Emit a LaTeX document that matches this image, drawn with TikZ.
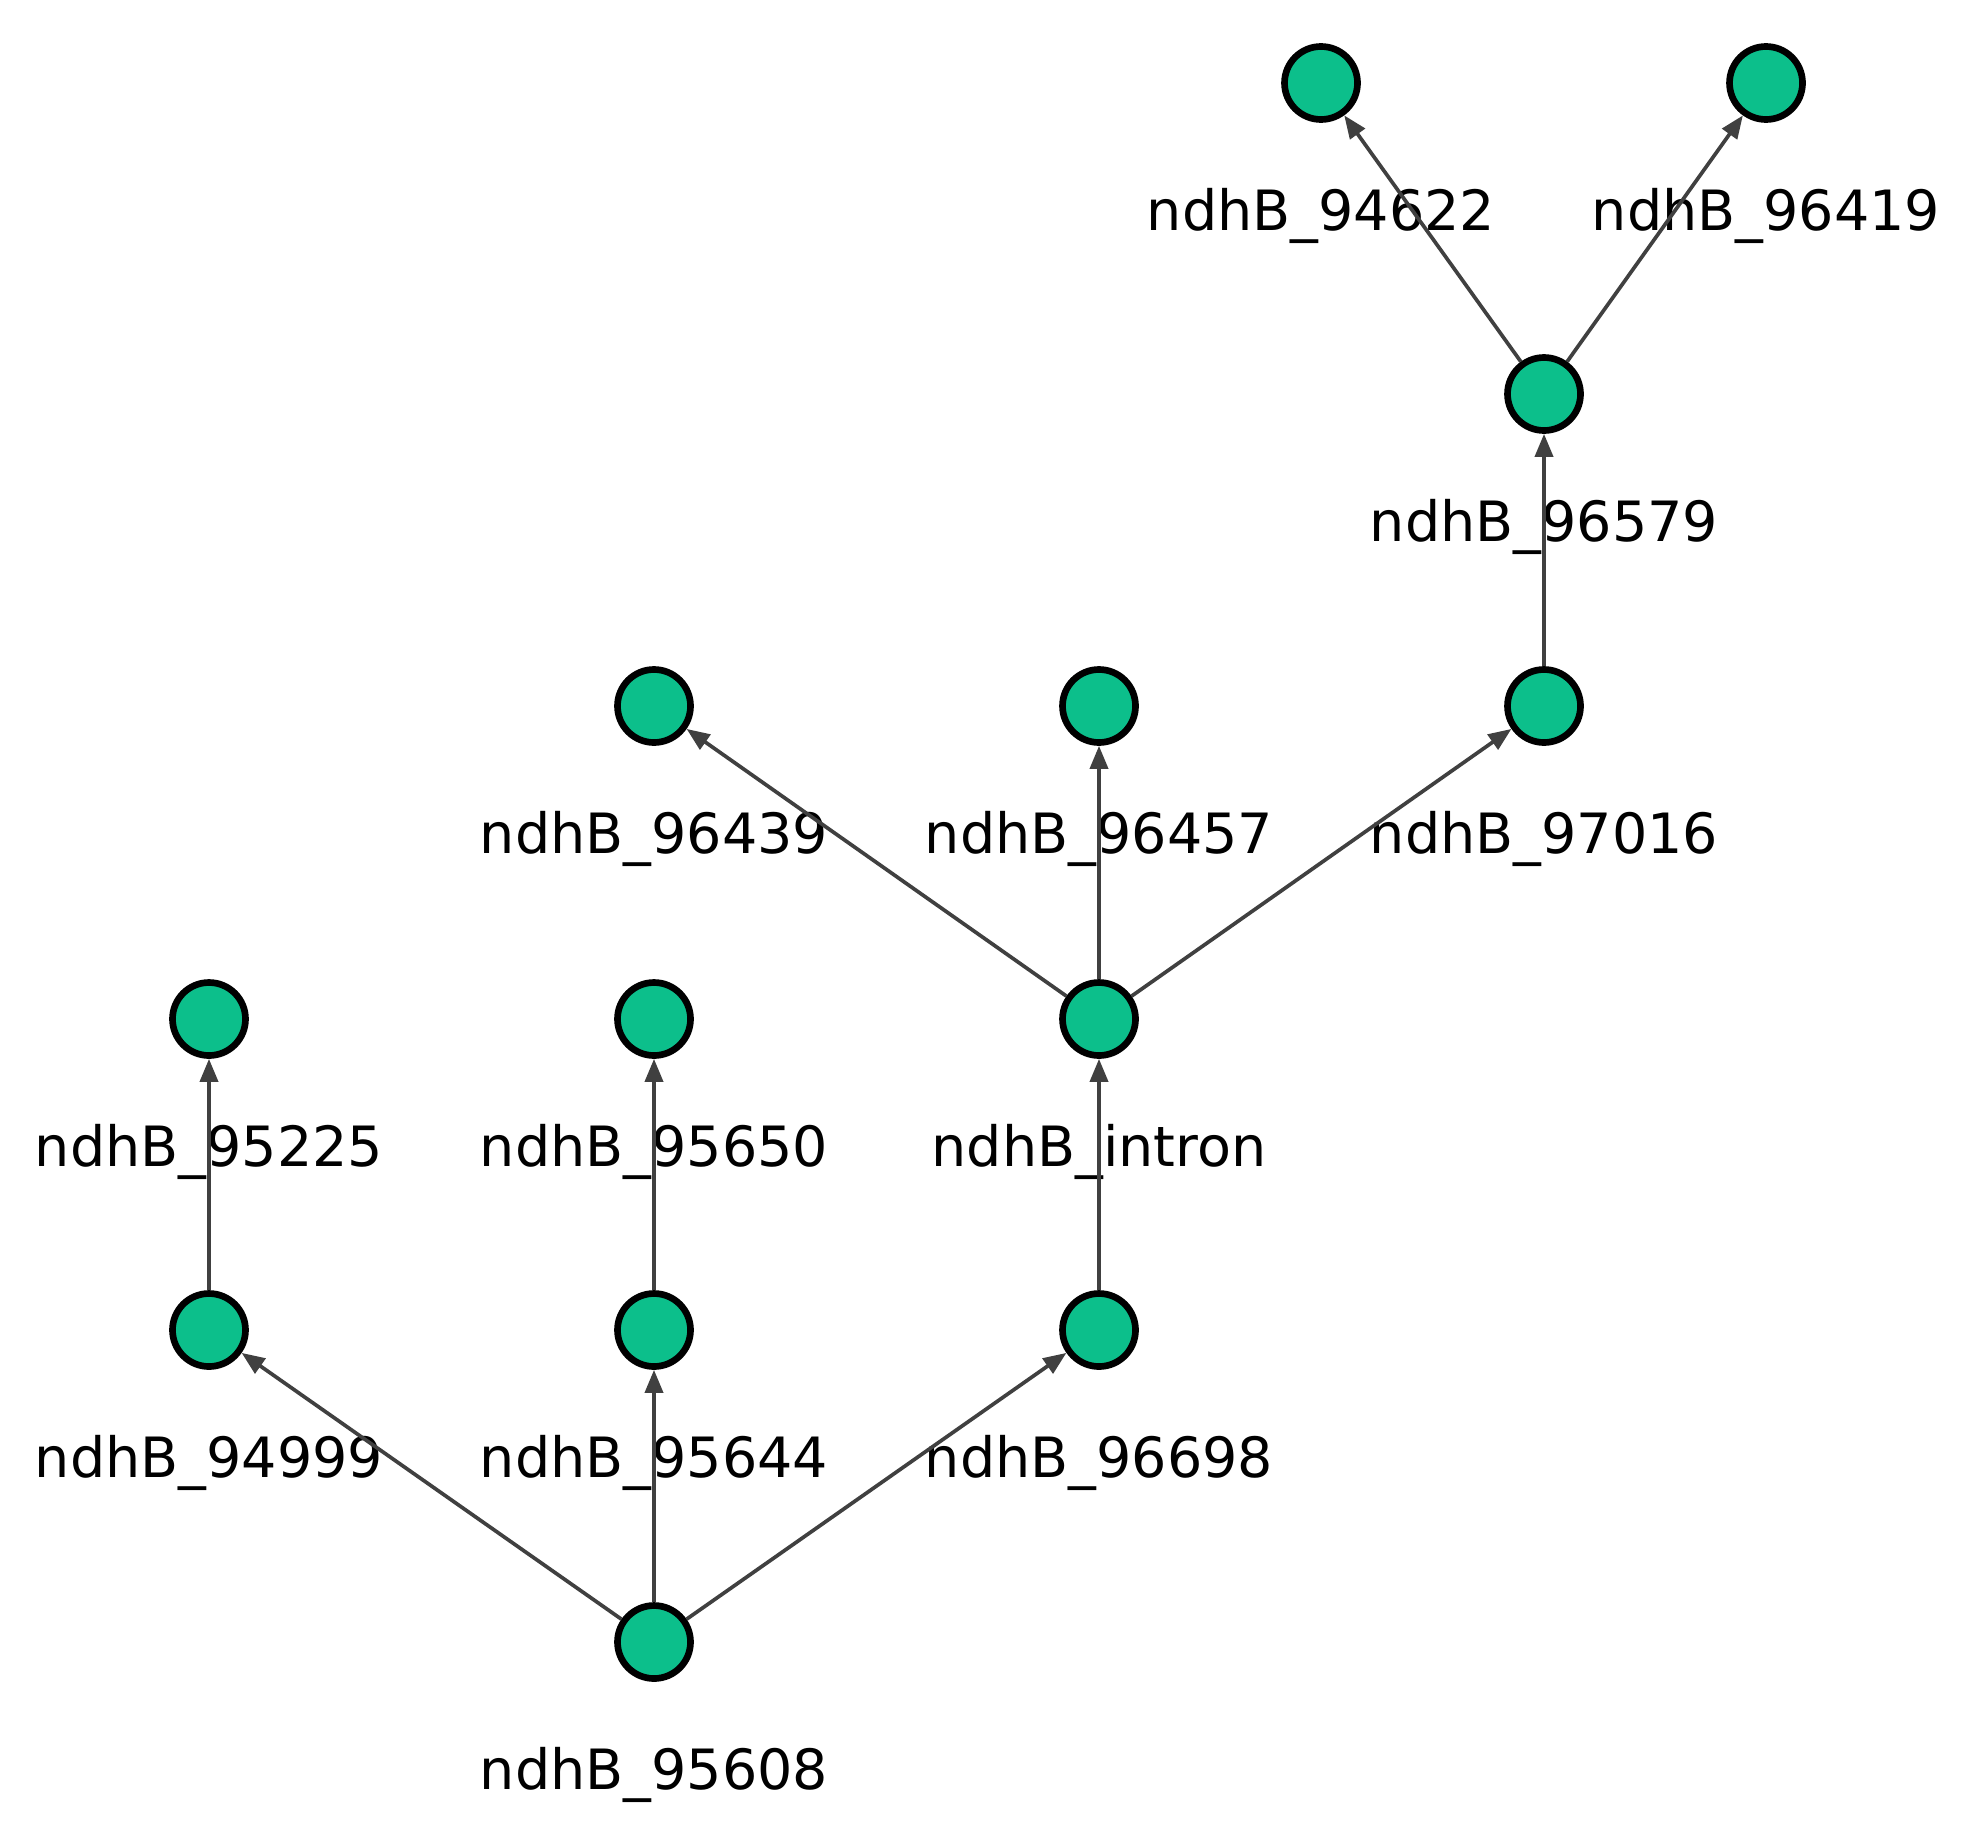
\documentclass[tikz,border=0pt]{standalone}
\usepackage{fontspec}
\setmainfont{DejaVu Sans}
\usetikzlibrary{arrows.meta}
\definecolor{genefill}{RGB}{12,191,139}
\definecolor{edgegray}{RGB}{64,64,64}

\begin{document}
\begin{tikzpicture}[
    gene/.style={circle,draw=black,line width=1.9pt,fill=genefill,minimum size=0.73cm,inner sep=0pt},
    glabel/.style={font=\fontsize{15.8}{18}\selectfont,anchor=base},
    link/.style={draw=edgegray,line width=1.05pt,-{Triangle[length=0.23cm,width=0.18cm]}}]
            \useasboundingbox (0,0) rectangle (19.61,-18.30);
            % genes and their names
            \foreach \nm/\px/\py/\txt in {g94622/13.21/-0.83/94622, g96419/17.66/-0.83/96419,
                g96579/15.44/-3.94/96579,
                g96439/6.54/-7.06/96439, g96457/10.99/-7.06/96457, g97016/15.44/-7.06/97016,
                g95225/2.09/-10.19/95225, g95650/6.54/-10.19/95650, gintron/10.99/-10.19/intron,
                g94999/2.09/-13.30/94999, g95644/6.54/-13.30/95644, g96698/10.99/-13.30/96698,
                g95608/6.54/-16.42/95608}{
                \node[gene] (\nm) at (\px,\py) {};
                \node[glabel] (\nm-name) at (\px,\py-1.47) {ndhB\_\txt};
            }
            % links
            \foreach \src/\dst in {g95608/g94999, g95608/g95644, g95608/g96698,
                g94999/g95225, g95644/g95650, g96698/gintron,
                gintron/g96439, gintron/g96457, gintron/g97016,
                g97016/g96579, g96579/g94622, g96579/g96419}{
                \draw[link] (\src) -- (\dst);
            }
        \end{tikzpicture}
\end{document}
